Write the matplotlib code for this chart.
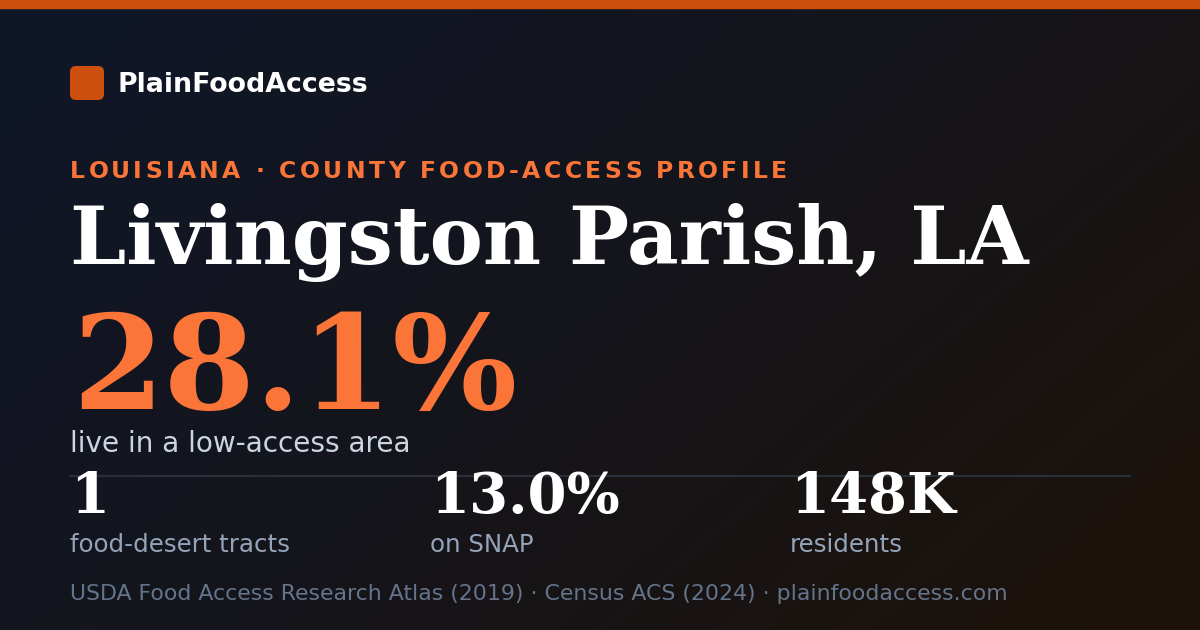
import numpy as np
import matplotlib
matplotlib.use('Agg')
import matplotlib.pyplot as plt
from matplotlib.colors import LinearSegmentedColormap
from matplotlib.patches import FancyBboxPatch, Rectangle
from matplotlib.font_manager import FontProperties

W, H, DPI = 1200, 630, 100

BRAND = 'PlainFoodAccess'
KICKER = 'LOUISIANA · COUNTY FOOD-ACCESS PROFILE'
PLACE = 'Livingston Parish, LA'
HEADLINE_VALUE = '28.1%'
HEADLINE_LABEL = 'live in a low-access area'
STAT_VALUES = ['1', '13.0%', '148K']
STAT_LABELS = ['food-desert tracts', 'on SNAP', 'residents']
SOURCE = 'USDA Food Access Research Atlas (2019) · Census ACS (2024) · plainfoodaccess.com'

ORANGE = '#fb7538'
ORANGE_DARK = '#cc4f0e'


def px(size):
    # pixel size -> points
    return size * 72 / DPI


fig = plt.figure(figsize=(W / DPI, H / DPI), dpi=DPI)
ax = fig.add_axes([0, 0, 1, 1])
ax.set_xlim(0, W)
ax.set_ylim(H, 0)
ax.axis('off')
renderer = fig.canvas.get_renderer()

# diagonal background gradient
bg = LinearSegmentedColormap.from_list('bg', ['#0f1729', '#15151b', '#1d1209'])
yy, xx = np.mgrid[0:1:200j, 0:1:380j]
ax.imshow(bg((xx * 0.62 + yy * 0.38)), extent=(0, W, H, 0), aspect='auto', zorder=0)

ax.add_patch(Rectangle((0, 0), W, 8, color=ORANGE_DARK, zorder=1))
ax.add_patch(FancyBboxPatch((70, 66), 34, 34, boxstyle='round,pad=0,rounding_size=6',
                            color=ORANGE_DARK, lw=0, zorder=1))


def fitted(x, y, s, width, color, **kw):
    t = ax.text(x, y, s, color=color, va='baseline', ha='left', fontsize=40, zorder=2, **kw)
    w = t.get_window_extent(renderer).width
    t.set_fontsize(40 * width / w)
    return t


def spaced(x, y, s, width, size, color, weight):
    fp = FontProperties(family='DejaVu Sans', weight=weight, size=px(size))
    widths = [renderer.get_text_width_height_descent(s[:i], fp, ismath=False)[0]
              for i in range(len(s) + 1)]
    gap = (width - widths[-1]) / (len(s) - 1)
    for i, ch in enumerate(s):
        ax.text(x + widths[i] + i * gap, y, ch, fontproperties=fp, color=color,
                va='baseline', ha='left', zorder=2)


fitted(118, 92, BRAND, 250, 'white', family='DejaVu Sans', weight='bold')
spaced(70, 178, KICKER, 717, 23.5, ORANGE, 'bold')
fitted(70, 264, PLACE, 957, 'white', family='DejaVu Serif', weight='bold')
fitted(72, 409, HEADLINE_VALUE, 445, ORANGE, family='DejaVu Serif', weight='bold')
fitted(70, 452, HEADLINE_LABEL, 341, '#cbd5e1', family='DejaVu Sans')

ax.plot([70, 1130], [475.5, 475.5], color='#2a2e37', lw=1.6, zorder=1)

for i, (val, lab) in enumerate(zip(STAT_VALUES, STAT_LABELS)):
    x0 = 70 + i * 360
    ax.text(x0, 513, val, color='white', family='DejaVu Serif', weight='bold',
            fontsize=px(56), va='baseline', ha='left', zorder=2)
    ax.text(x0, 552, lab, color='#94a3b8', family='DejaVu Sans',
            fontsize=px(24.5), va='baseline', ha='left', zorder=2)

fitted(70, 600, SOURCE, 935, '#64748b', family='DejaVu Sans')

fig.savefig('out.png', dpi=DPI)
